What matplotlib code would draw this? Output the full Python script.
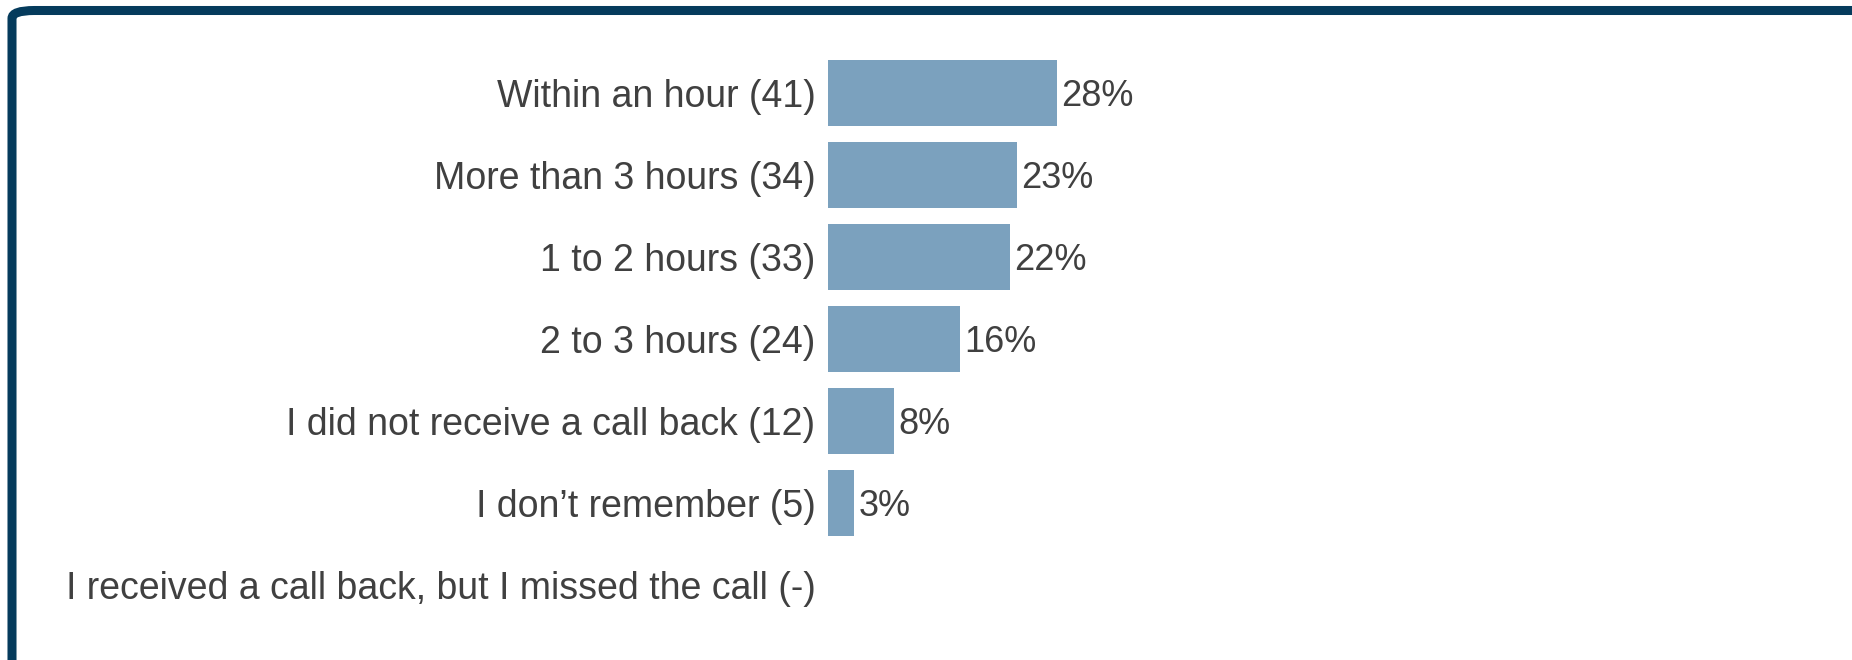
import matplotlib
matplotlib.use("Agg")
import matplotlib.pyplot as plt
from matplotlib.patches import FancyBboxPatch

# data
categories = [
    "Within an hour (41)",
    "More than 3 hours (34)",
    "1 to 2 hours (33)",
    "2 to 3 hours (24)",
    "I did not receive a call back (12)",
    "I don\u2019t remember (5)",
    "I received a call back, but I missed the call (-)",
]
percents = [28.0, 23.1, 22.2, 16.1, 8.1, 3.2, 0.0]
pct_labels = ["28%", "23%", "22%", "16%", "8%", "3%", ""]

BAR_COLOR = "#7ba1be"
TEXT_COLOR = "#404040"
BORDER_COLOR = "#053b5c"
FONT = ["Liberation Sans", "DejaVu Sans"]

W, H = 1852, 660
fig = plt.figure(figsize=(W / 100, H / 100), dpi=100)
fig.patch.set_facecolor("white")

# frame: only top and left edges fall inside the picture
top_y = 1 - 10.5 / H
frame = FancyBboxPatch((12 / W, -0.5), 1.2, top_y + 0.5,
                       boxstyle="round,pad=0,rounding_size=0.012",
                       transform=fig.transFigure, fill=False,
                       edgecolor=BORDER_COLOR, linewidth=6.5)
fig.patches.append(frame)

# axes placed so bar 0 sits at x=828px, rows 82px apart
ax_left, ax_right = 828, 1780
ax_top, ax_bot = 52, 626
ax = fig.add_axes([ax_left / W, 1 - ax_bot / H,
                   (ax_right - ax_left) / W, (ax_bot - ax_top) / H])
ax.set_facecolor("none")

ypos = list(range(len(categories)))
ax.barh(ypos, percents, height=0.8, color=BAR_COLOR)
ax.set_xlim(0, (ax_right - ax_left) / 8.18)
ax.set_ylim(len(categories) - 0.5, -0.5)

ax.set_yticks(ypos)
ax.set_yticklabels(categories, fontsize=27, color=TEXT_COLOR, family=FONT)
ax.tick_params(axis="y", length=0, pad=9)
ax.set_xticks([])
for sp in ax.spines.values():
    sp.set_visible(False)

for y, v, lab in zip(ypos, percents, pct_labels):
    ax.annotate(lab, (v, y), xytext=(3, 0), textcoords="offset points",
                va="center_baseline", ha="left", fontsize=26,
                color=TEXT_COLOR, family=FONT)

fig.savefig("out.png", dpi=100, facecolor="white")
